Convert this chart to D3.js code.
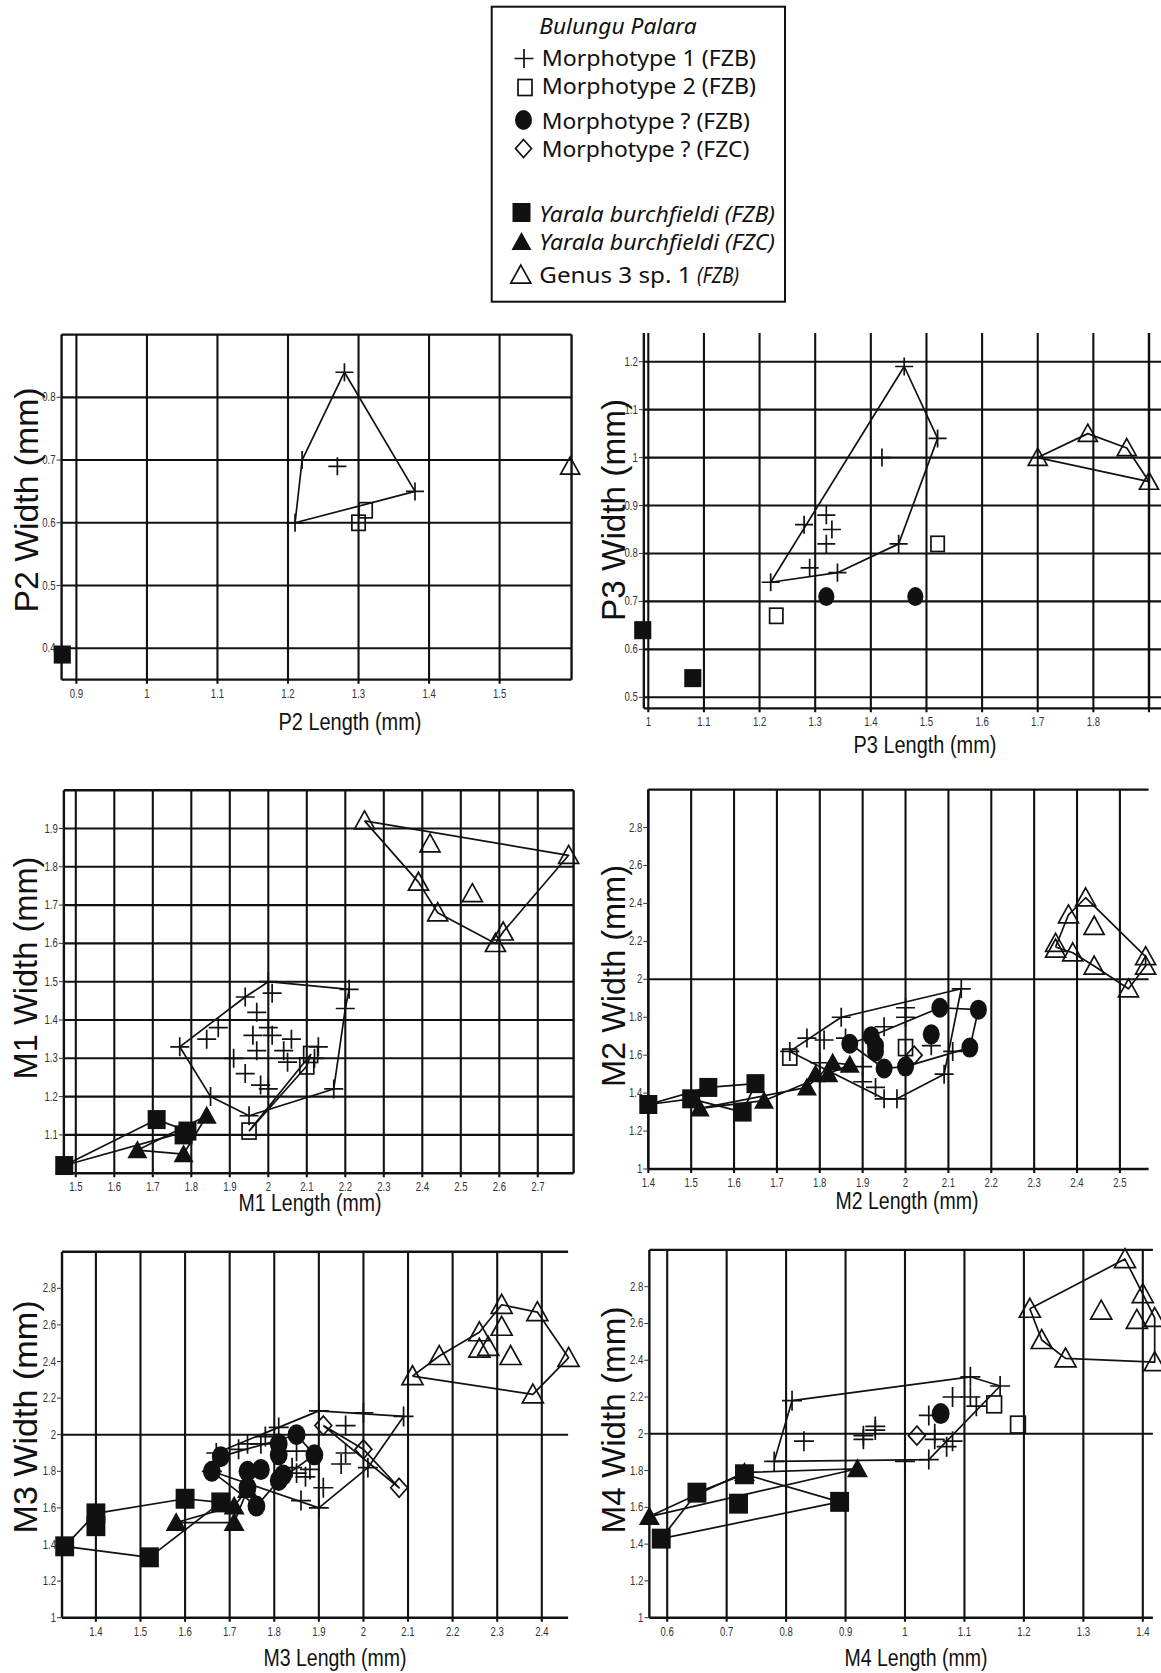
<!DOCTYPE html>
<html>
<head>
<meta charset="utf-8">
<script src="https://cdn.jsdelivr.net/npm/d3@7"></script>
<style>
  body { margin: 0; background: #fff; }
  svg text { font-family: "Liberation Sans", Arial, sans-serif; fill: #111; }
</style>
</head>
<body>
<svg id="chart" width="1161" height="1673"></svg>
<script>

// ---- tick values ----
const p2XTicks = [0.9, 1, 1.1, 1.2, 1.3, 1.4, 1.5];
const p2YTicks = [0.4, 0.5, 0.6, 0.7, 0.8];
const p3XTicks = [1, 1.1, 1.2, 1.3, 1.4, 1.5, 1.6, 1.7, 1.8];
const p3XGrid  = [1, 1.1, 1.2, 1.3, 1.4, 1.5, 1.6, 1.7, 1.8, 1.9];
const p3YTicks = [0.5, 0.6, 0.7, 0.8, 0.9, 1, 1.1, 1.2];
const m1XTicks = [1.5, 1.6, 1.7, 1.8, 1.9, 2, 2.1, 2.2, 2.3, 2.4, 2.5, 2.6, 2.7];
const m1YTicks = [1.1, 1.2, 1.3, 1.4, 1.5, 1.6, 1.7, 1.8, 1.9];
const m2XTicks = [1.4, 1.5, 1.6, 1.7, 1.8, 1.9, 2, 2.1, 2.2, 2.3, 2.4, 2.5];
const m3XTicks = [1.4, 1.5, 1.6, 1.7, 1.8, 1.9, 2, 2.1, 2.2, 2.3, 2.4];
const m4XTicks = [0.6, 0.7, 0.8, 0.9, 1, 1.1, 1.2, 1.3, 1.4];
const wideYTicks = [1, 1.2, 1.4, 1.6, 1.8, 2, 2.2, 2.4, 2.6, 2.8];
const wideYGrid = [2];

// ---- P2 ----
const p2M1 = [[1.28,0.84],[1.22,0.70],[1.27,0.69],[1.38,0.65],[1.21,0.60]];
const p2M1Hull = [[1.21,0.60],[1.22,0.70],[1.28,0.84],[1.38,0.65],[1.21,0.60]];
const p2M2 = [[1.31,0.62],[1.30,0.60]];
const p2YB = [[0.88,0.39]];
const p2G3 = [[1.60,0.69]];

// ---- P3 ----
const p3M1 = [[1.46,1.19],[1.52,1.04],[1.42,1.00],[1.28,0.86],[1.32,0.88],[1.33,0.85],[1.32,0.82],
              [1.29,0.77],[1.34,0.76],[1.22,0.74],[1.45,0.82]];
const p3M1Hull = [[1.22,0.74],[1.46,1.19],[1.52,1.04],[1.45,0.82],[1.34,0.76],[1.22,0.74]];
const p3M2 = [[1.23,0.67],[1.52,0.82]];
const p3MQB = [[1.32,0.71],[1.48,0.71]];
const p3YB = [[0.99,0.64],[1.08,0.54]];
const p3G3 = [[1.70,1.00],[1.79,1.05],[1.86,1.02],[1.90,0.95]];
const p3G3Hull = [[1.70,1.00],[1.79,1.05],[1.86,1.02],[1.90,0.95],[1.70,1.00]];

// ---- M1 ----
const m1M1 = [[1.77,1.33],[1.84,1.35],[1.87,1.38],[1.94,1.46],[2.00,1.50],[2.01,1.47],[1.97,1.42],
              [1.96,1.36],[2.00,1.38],[2.01,1.36],[2.06,1.35],[1.97,1.32],[2.04,1.32],[2.05,1.29],
              [2.13,1.33],[2.12,1.30],[1.91,1.30],[1.94,1.26],[1.98,1.23],[2.00,1.22],[1.95,1.15],
              [1.85,1.20],[2.21,1.48],[2.20,1.43],[2.17,1.22]];
const m1M1Hull = [[1.77,1.33],[1.94,1.46],[2.00,1.50],[2.21,1.48],[2.20,1.43],[2.17,1.22],[1.95,1.15],[1.85,1.20],[1.77,1.33]];
const m1M2 = [[1.95,1.11],[2.11,1.31],[2.10,1.28]];
const m1M2Hull = [[1.95,1.11],[2.11,1.31],[2.10,1.28],[1.95,1.11]];
const m1YB = [[1.47,1.02],[1.71,1.14],[1.79,1.11],[1.78,1.10]];
const m1YBHull = [[1.47,1.02],[1.71,1.14],[1.79,1.11],[1.47,1.02]];
const m1YC = [[1.66,1.06],[1.78,1.05],[1.84,1.15]];
const m1YCHull = [[1.66,1.06],[1.84,1.15],[1.78,1.05],[1.66,1.06]];
const m1G3 = [[2.25,1.92],[2.42,1.86],[2.39,1.76],[2.44,1.68],[2.53,1.73],[2.59,1.60],[2.61,1.63],[2.78,1.83]];
const m1G3Hull = [[2.25,1.92],[2.78,1.83],[2.61,1.63],[2.59,1.60],[2.44,1.68],[2.39,1.76],[2.25,1.92]];

// ---- M2 ----
const m2M1 = [[1.73,1.62],[1.77,1.69],[1.81,1.68],[1.85,1.80],[1.86,1.69],[1.95,1.75],[2.00,1.85],[2.00,1.80],
              [1.80,1.56],[1.90,1.54],[1.90,1.46],[1.93,1.43],[1.95,1.37],[1.98,1.37],[2.09,1.50],[2.11,1.62],
              [2.06,1.65],[2.13,1.95]];
const m2M1Hull = [[1.73,1.62],[1.85,1.80],[2.13,1.95],[2.09,1.50],[1.98,1.37],[1.95,1.37],[1.73,1.62]];
const m2M2 = [[1.73,1.59],[2.00,1.64]];
const m2MQB = [[2.08,1.85],[2.17,1.84],[2.15,1.64],[2.06,1.71],[1.92,1.70],[1.93,1.65],[1.93,1.62],
               [1.95,1.53],[2.00,1.54],[1.87,1.66]];
const m2MQBHull = [[1.87,1.66],[1.92,1.70],[2.08,1.85],[2.17,1.84],[2.15,1.64],[2.00,1.54],[1.95,1.53],[1.87,1.66]];
const m2MQC = [[2.02,1.60]];
const m2YB = [[1.40,1.34],[1.50,1.37],[1.54,1.43],[1.62,1.30],[1.65,1.45]];
const m2YBHull = [[1.40,1.34],[1.54,1.43],[1.65,1.45],[1.62,1.30],[1.50,1.37],[1.40,1.34]];
const m2YC = [[1.52,1.32],[1.67,1.36],[1.77,1.43],[1.79,1.50],[1.82,1.50],[1.83,1.56],[1.87,1.55]];
const m2YCHull = [[1.52,1.32],[1.77,1.43],[1.83,1.56],[1.87,1.55],[1.67,1.36],[1.52,1.32]];
const m2G3 = [[2.42,2.43],[2.38,2.34],[2.44,2.28],[2.35,2.19],[2.35,2.16],[2.39,2.14],[2.44,2.07],
              [2.56,2.12],[2.56,2.07],[2.52,1.95]];
const m2G3Hull = [[2.35,2.17],[2.38,2.34],[2.42,2.43],[2.56,2.12],[2.56,2.07],[2.52,1.95],[2.44,2.07],[2.39,2.14],[2.35,2.17]];

// ---- M3 ----
const m3M1 = [[1.67,1.90],[1.72,1.92],[1.74,1.95],[1.77,1.95],[1.78,1.99],[1.81,2.04],[1.84,1.82],[1.85,1.79],
              [1.87,1.77],[1.88,1.81],[1.85,1.91],[1.86,1.64],[1.91,1.71],[1.90,1.60],[1.90,2.13],[1.96,2.05],
              [1.95,1.84],[1.96,1.90],[2.00,2.12],[2.09,2.10],[2.01,1.82],[1.66,1.80]];
const m3M1Hull = [[1.67,1.90],[1.81,2.04],[1.90,2.13],[2.09,2.10],[2.01,1.82],[1.90,1.60],[1.66,1.80],[1.67,1.90]];
const m3MQB = [[1.68,1.88],[1.66,1.80],[1.74,1.80],[1.77,1.81],[1.74,1.71],[1.76,1.61],[1.81,1.95],[1.81,1.89],
               [1.85,2.00],[1.89,1.89],[1.81,1.75],[1.82,1.78]];
const m3MQBHull = [[1.66,1.80],[1.68,1.88],[1.85,2.00],[1.89,1.89],[1.81,1.75],[1.76,1.61],[1.66,1.80]];
const m3MQC = [[1.91,2.05],[2.00,1.92],[2.08,1.71]];
const m3MQCHull = [[1.91,2.05],[2.00,1.92],[2.08,1.71],[1.91,2.05]];
const m3YB = [[1.33,1.39],[1.40,1.57],[1.40,1.50],[1.52,1.33],[1.60,1.65],[1.68,1.63]];
const m3YBHull = [[1.33,1.39],[1.40,1.57],[1.60,1.65],[1.68,1.63],[1.52,1.33],[1.33,1.39]];
const m3YC = [[1.58,1.52],[1.71,1.52],[1.71,1.61],[1.74,1.70]];
const m3YCHull = [[1.58,1.52],[1.71,1.61],[1.74,1.70],[1.71,1.52],[1.58,1.52]];
const m3G3 = [[2.11,2.32],[2.17,2.43],[2.26,2.56],[2.26,2.47],[2.28,2.48],[2.31,2.71],[2.31,2.59],
              [2.33,2.43],[2.39,2.67],[2.46,2.42],[2.38,2.22]];
const m3G3Hull = [[2.11,2.32],[2.17,2.43],[2.26,2.56],[2.31,2.71],[2.39,2.67],[2.46,2.42],[2.38,2.22],[2.11,2.32]];

// ---- M4 ----
const m4M1 = [[0.78,1.85],[0.81,2.18],[0.83,1.96],[0.93,1.97],[0.93,1.99],[0.95,2.02],[0.95,2.04],[1.00,1.85],
              [1.04,1.86],[1.04,2.10],[1.05,2.00],[1.05,1.97],[1.07,1.93],[1.08,1.96],[1.08,2.20],[1.11,2.20],
              [1.11,2.31],[1.12,2.15],[1.16,2.26]];
const m4M1Hull = [[0.78,1.85],[0.81,2.18],[1.11,2.31],[1.16,2.26],[1.04,1.86],[0.78,1.85]];
const m4M2 = [[1.15,2.16],[1.19,2.05]];
const m4MQB = [[1.06,2.11]];
const m4MQC = [[1.02,1.99]];
const m4YB = [[0.59,1.43],[0.65,1.68],[0.72,1.62],[0.73,1.78],[0.89,1.63]];
const m4YBHull = [[0.59,1.43],[0.65,1.68],[0.73,1.78],[0.89,1.63],[0.59,1.43]];
const m4YC = [[0.57,1.55],[0.73,1.79],[0.92,1.81]];
const m4YCHull = [[0.57,1.55],[0.73,1.79],[0.92,1.81],[0.57,1.55]];
const m4G3 = [[1.21,2.68],[1.37,2.95],[1.40,2.76],[1.42,2.63],[1.39,2.62],[1.33,2.67],[1.23,2.51],[1.27,2.41],[1.42,2.39]];
const m4G3Hull = [[1.21,2.68],[1.37,2.95],[1.40,2.76],[1.42,2.63],[1.42,2.39],[1.27,2.41],[1.23,2.51],[1.21,2.68]];

// ---- legend ----
const legendRows = [
  {kind: null,  label: "Bulungu Palara", italic: true},
  {kind: "m1",  label: "Morphotype 1 (FZB)"},
  {kind: "m2",  label: "Morphotype 2 (FZB)"},
  {kind: "mqb", label: "Morphotype ? (FZB)"},
  {kind: "mqc", label: "Morphotype ? (FZC)"},
  {kind: "yb",  label: "Yarala burchfieldi (FZB)", italic: true},
  {kind: "yc",  label: "Yarala burchfieldi (FZC)", italic: true},
  {kind: "g3",  label: "Genus 3 sp. 1", tail: "(FZB)"}
];

const svg = d3.select("#chart");
const INK = "#111";

// marker drawing, centred on (cx, cy)
function marker(g, kind, cx, cy, s) {
  s = s || 1;
  if (kind === "m1") {
    const h = 9.5 * s;
    g.append("path").attr("d", `M${cx-h},${cy}H${cx+h}M${cx},${cy-h}V${cy+h}`)
      .attr("stroke", INK).attr("stroke-width", 1.7).attr("fill", "none");
  } else if (kind === "m2") {
    const w = 14 * s, h = 16 * s;
    g.append("rect").attr("x", cx - w/2).attr("y", cy - h/2).attr("width", w).attr("height", h)
      .attr("fill", "none").attr("stroke", INK).attr("stroke-width", 1.7);
  } else if (kind === "mqb") {
    g.append("ellipse").attr("cx", cx).attr("cy", cy).attr("rx", 8.5 * s).attr("ry", 10 * s).attr("fill", INK);
  } else if (kind === "mqc") {
    const w = 8 * s, h = 9 * s;
    g.append("path").attr("d", `M${cx},${cy-h}L${cx+w},${cy}L${cx},${cy+h}L${cx-w},${cy}Z`)
      .attr("fill", "none").attr("stroke", INK).attr("stroke-width", 1.7);
  } else if (kind === "yb") {
    const w = 18 * s, h = 19 * s;
    g.append("rect").attr("x", cx - w/2).attr("y", cy - h/2).attr("width", w).attr("height", h).attr("fill", INK);
  } else if (kind === "yc" || kind === "g3") {
    const w = 20 * s, h = 18 * s;
    const p = g.append("path").attr("d", `M${cx},${cy-0.55*h}L${cx+w/2},${cy+0.45*h}L${cx-w/2},${cy+0.45*h}Z`);
    if (kind === "yc") p.attr("fill", INK);
    else p.attr("fill", "none").attr("stroke", INK).attr("stroke-width", 1.7).attr("stroke-linejoin", "miter");
  }
}

const panels = [
  {xd: [0.9, 1.5], xr: [76.4, 499.6], yd: [0.3, 0.9], yr: [711, 334.6],
   frame: [0.879, 1.602, 0.35, 0.9], top: true, right: true, hEnd: null, ms: 0.95, titleOff: 50,
   gridX: p2XTicks, gridY: p2YTicks, xTicks: p2XTicks, yTicks: p2YTicks,
   yTitle: ["P2 Width (mm)", 38, 500, 225], xTitle: ["P2 Length (mm)", 350],
   hulls: [p2M1Hull],
   marks: [["yb", p2YB], ["m2", p2M2], ["m1", p2M1], ["g3", p2G3]]},
  {xd: [1.0, 1.9], xr: [648.3, 1149], yd: [0.5, 1.2], yr: [697.3, 361.7],
   frame: [0.992, 1.9, 0.477, 1.26], top: false, right: true, hEnd: 1161, ms: 0.95, titleOff: 45,
   gridX: p3XGrid, gridY: p3YTicks, xTicks: p3XTicks, yTicks: p3YTicks,
   yTitle: ["P3 Width (mm)", 625, 510, 222], xTitle: ["P3 Length (mm)", 925],
   hulls: [p3M1Hull, p3G3Hull],
   marks: [["yb", p3YB], ["mqb", p3MQB], ["m2", p3M2], ["m1", p3M1], ["g3", p3G3]]},
  {xd: [1.5, 2.7], xr: [75.8, 537.8], yd: [1.0, 2.0], yr: [1173.2, 790.2],
   frame: [1.469, 2.793, 1.0, 2.0], top: true, right: true, hEnd: null, ms: 1, titleOff: 38,
   gridX: m1XTicks, gridY: m1YTicks, xTicks: m1XTicks, yTicks: m1YTicks,
   yTitle: ["M1 Width (mm)", 37, 968, 223], xTitle: ["M1 Length (mm)", 310],
   hulls: [m1M1Hull, m1M2Hull, m1YBHull, m1YCHull, m1G3Hull],
   marks: [["yb", m1YB], ["yc", m1YC], ["m2", m1M2], ["m1", m1M1], ["g3", m1G3]]},
  {xd: [1.4, 2.5], xr: [648.3, 1119.9], yd: [1.0, 3.0], yr: [1169, 789.6],
   frame: [1.4, 2.567, 1.0, 3.0], top: true, right: false, hEnd: null, ms: 1, titleOff: 40,
   gridX: m2XTicks, gridY: wideYGrid, xTicks: m2XTicks, yTicks: wideYTicks,
   yTitle: ["M2 Width (mm)", 625, 976, 222], xTitle: ["M2 Length (mm)", 907],
   hulls: [m2M1Hull, m2MQBHull, m2YBHull, m2YCHull, m2G3Hull],
   marks: [["yb", m2YB], ["yc", m2YC], ["mqb", m2MQB], ["m2", m2M2], ["mqc", m2MQC], ["m1", m2M1], ["g3", m2G3]]},
  {xd: [1.4, 2.4], xr: [95.9, 541.8], yd: [1.0, 3.0], yr: [1617.7, 1251.7],
   frame: [1.324, 2.459, 1.0, 3.0], top: true, right: false, hEnd: null, ms: 1.05, titleOff: 48,
   gridX: m3XTicks, gridY: wideYGrid, xTicks: m3XTicks, yTicks: wideYTicks,
   yTitle: ["M3 Width (mm)", 37, 1417, 233], xTitle: ["M3 Length (mm)", 335],
   hulls: [m3M1Hull, m3MQBHull, m3MQCHull, m3YBHull, m3YCHull, m3G3Hull],
   marks: [["yb", m3YB], ["yc", m3YC], ["mqb", m3MQB], ["mqc", m3MQC], ["m1", m3M1], ["g3", m3G3]]},
  {xd: [0.6, 1.4], xr: [667.2, 1142.8], yd: [1.0, 3.0], yr: [1617.7, 1249.9],
   frame: [0.57, 1.417, 1.0, 3.0], top: true, right: false, hEnd: null, ms: 1.05, titleOff: 48,
   gridX: m4XTicks, gridY: wideYGrid, xTicks: m4XTicks, yTicks: wideYTicks,
   yTitle: ["M4 Width (mm)", 625, 1420, 227], xTitle: ["M4 Length (mm)", 916],
   hulls: [m4M1Hull, m4YBHull, m4YCHull, m4G3Hull],
   marks: [["yb", m4YB], ["yc", m4YC], ["mqb", m4MQB], ["m2", m4M2], ["mqc", m4MQC], ["m1", m4M1], ["g3", m4G3]]}
];

function drawPanel(p) {
  const x = d3.scaleLinear().domain(p.xd).range(p.xr);
  const y = d3.scaleLinear().domain(p.yd).range(p.yr);
  const g = svg.append("g");
  const L = x(p.frame[0]), R = x(p.frame[1]), B = y(p.frame[2]), T = y(p.frame[3]);
  const hEnd = p.hEnd || R;

  // vertical grid lines (run a little past the bottom as tick marks)
  g.selectAll("line.gx").data(p.gridX).join("line").attr("class", "gx")
    .attr("x1", d => x(d)).attr("x2", d => x(d)).attr("y1", T).attr("y2", B + 4)
    .attr("stroke", INK).attr("stroke-width", 2.1);
  // horizontal grid lines
  g.selectAll("line.gy").data(p.gridY).join("line").attr("class", "gy")
    .attr("x1", L).attr("x2", hEnd).attr("y1", d => y(d)).attr("y2", d => y(d))
    .attr("stroke", INK).attr("stroke-width", 2.1);

  // frame
  const fr = [[L, T, L, B], [L, B, hEnd, B]];
  if (p.top) fr.push([L, T, hEnd, T]);
  if (p.right) fr.push([R, T, R, B]);
  g.selectAll("line.fr").data(fr).join("line").attr("class", "fr")
    .attr("x1", d => d[0]).attr("y1", d => d[1]).attr("x2", d => d[2]).attr("y2", d => d[3])
    .attr("stroke", INK).attr("stroke-width", 2.4);

  // y ticks + labels
  g.selectAll("line.yt").data(p.yTicks).join("line").attr("class", "yt")
    .attr("x1", L - 5).attr("x2", L).attr("y1", d => y(d)).attr("y2", d => y(d))
    .attr("stroke", "#333").attr("stroke-width", 1);
  g.selectAll("text.yl").data(p.yTicks).join("text").attr("class", "yl")
    .attr("transform", d => `translate(${L - 6},${y(d) + 4}) scale(0.8,1)`)
    .attr("text-anchor", "end").attr("font-size", 12).style("fill", "#333")
    .text(d => String(d));
  // x labels
  g.selectAll("text.xl").data(p.xTicks).join("text").attr("class", "xl")
    .attr("transform", d => `translate(${x(d)},${B + 18}) scale(0.8,1)`)
    .attr("text-anchor", "middle").attr("font-size", 12).style("fill", "#333")
    .text(d => String(d));

  // axis titles
  g.append("text")
    .attr("transform", `translate(${p.yTitle[1]},${p.yTitle[2]}) rotate(-90)`)
    .attr("text-anchor", "middle").attr("font-size", 33)
    .attr("textLength", p.yTitle[3]).attr("lengthAdjust", "spacingAndGlyphs")
    .text(p.yTitle[0]);
  g.append("text")
    .attr("x", p.xTitle[1]).attr("y", B + p.titleOff)
    .attr("text-anchor", "middle").attr("font-size", 23)
    .attr("textLength", 143).attr("lengthAdjust", "spacingAndGlyphs")
    .text(p.xTitle[0]);

  // convex outlines
  const line = d3.line().x(d => x(d[0])).y(d => y(d[1]));
  p.hulls.forEach(h => {
    g.append("path").attr("d", line(h)).attr("fill", "none")
      .attr("stroke", INK).attr("stroke-width", 1.7).attr("stroke-linejoin", "round");
  });

  // specimens
  p.marks.forEach(([kind, pts]) => {
    pts.forEach(d => marker(g, kind, x(d[0]), y(d[1]), p.ms));
  });
}

panels.forEach(drawPanel);

// ---- legend box ----
const lg = svg.append("g");
lg.append("rect").attr("x", 491.7).attr("y", 6.7).attr("width", 293.3).attr("height", 295)
  .attr("fill", "#fff").attr("stroke", INK).attr("stroke-width", 2);

const legBase = [34.3, 65.5, 94, 128.8, 157.2, 222, 249.8, 283];
const legWidth = [157.3, 214.3, 214.3, 208.3, 207.7, 235.7, 235.7, 152.3];
const legSym = [null, [524, 58.5], [525, 87.5], [523.5, 120], [523.5, 148.5], [521.5, 212.5], [521.5, 242], [520.8, 275]];

legendRows.forEach((r, i) => {
  const tx = (r.kind === "m1" || r.kind === "m2" || r.kind === "mqb" || r.kind === "mqc") ? 541.7 : 539.3;
  lg.append("text").attr("x", tx).attr("y", legBase[i])
    .attr("font-size", 21.5).style("font-family", "'Noto Sans','Open Sans',sans-serif")
    .style("font-style", r.italic ? "italic" : "normal")
    .attr("textLength", legWidth[i]).attr("lengthAdjust", "spacingAndGlyphs")
    .text(r.label);
  if (r.tail) {
    lg.append("text").attr("x", 697).attr("y", legBase[i])
      .attr("font-size", 21.5).style("font-family", "'Noto Sans','Open Sans',sans-serif")
      .style("font-style", "italic")
      .attr("textLength", 42).attr("lengthAdjust", "spacingAndGlyphs")
      .text(r.tail);
  }
  if (r.kind) marker(lg, r.kind, legSym[i][0], legSym[i][1], 1.0);
});

</script>
</body>
</html>
